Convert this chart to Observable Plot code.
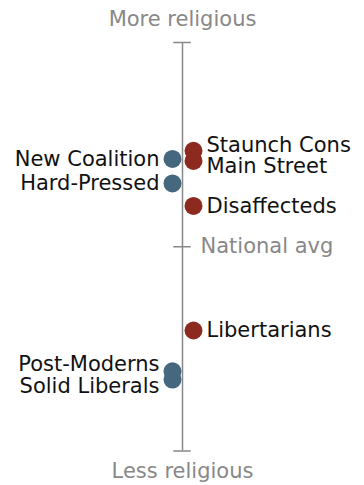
<!DOCTYPE html>
<html>
<head>
<meta charset="utf-8">
<script src="https://cdn.jsdelivr.net/npm/d3@7"></script>
<script src="https://cdn.jsdelivr.net/npm/@observablehq/plot@0.6"></script>
<style>
  html, body { margin: 0; padding: 0; background: #fff; }
  #chart svg { display: block; }
</style>
</head>
<body>
<div id="chart"></div>
<script>
// Data (religiosity relative to national average; +10 = most religious, -10 = least)
const groups = ["Staunch Cons", "Main Street", "New Coalition", "Hard-Pressed", "Disaffecteds", "Libertarians", "Post-Moderns", "Solid Liberals"];
const religiosity = [4.7, 4.2, 4.3, 3.1, 2.0, -4.1, -6.1, -6.5];
const sides = ["right", "right", "left", "left", "right", "right", "left", "left"];
const axisTicks = [10, 0, -10];
const axisLabels = ["More religious", "National avg", "Less religious"];

const blue = "#46687f";
const red = "#8c2a1f";
const gray = "#888888";
const font = "DejaVu Sans, Verdana, sans-serif";

const data = groups.map((g, i) => ({group: g, value: religiosity[i], side: sides[i]}));

// simple label de-overlap per side (gap in y data units)
function dodge(items, gap) {
  const sorted = items.slice().sort((a, b) => b.value - a.value);
  let clusters = sorted.map(d => ({items: [d], center: d.value}));
  let merged = true;
  while (merged) {
    merged = false;
    for (let i = 1; i < clusters.length; i++) {
      const a = clusters[i - 1], b = clusters[i];
      const aBottom = a.center - (a.items.length - 1) / 2 * gap;
      const bTop = b.center + (b.items.length - 1) / 2 * gap;
      if (aBottom - bTop < gap) {
        const items2 = a.items.concat(b.items);
        clusters.splice(i - 1, 2, {items: items2, center: d3.mean(items2, d => d.value)});
        merged = true;
        break;
      }
    }
  }
  for (const c of clusters) {
    const n = c.items.length;
    c.items.forEach((d, k) => { d.labelY = c.center + ((n - 1) / 2 - k) * gap; });
  }
}
dodge(data.filter(d => d.side === "left"), 1.06);
dodge(data.filter(d => d.side === "right"), 1.06);

const left = data.filter(d => d.side === "left");
const right = data.filter(d => d.side === "right");
const tickData = axisTicks.map((t, i) => ({value: t, label: axisLabels[i]}));

const chart = Plot.plot({
  width: 364,
  height: 485,
  marginTop: 42,
  marginBottom: 34.5,
  marginLeft: 0,
  marginRight: 0,
  x: {domain: [-1, 1], axis: null},
  y: {domain: [-10, 10], axis: null},
  style: {fontFamily: font, background: "#fff"},
  marks: [
    Plot.ruleX([0], {y1: axisTicks[2], y2: axisTicks[0], stroke: gray, strokeWidth: 1.5}),
    Plot.ruleY(axisTicks, {y: d => d, x1: -0.048, x2: 0.048, stroke: gray, strokeWidth: 1.5}),
    Plot.dot(left, {x: 0, y: "value", dx: -10, r: 9, fill: blue}),
    Plot.dot(right, {x: 0, y: "value", dx: 11, r: 9, fill: red}),
    Plot.text(left, {x: 0, y: "labelY", text: "group", dx: -23, textAnchor: "end", lineAnchor: "middle", fill: "#111", fontSize: 21}),
    Plot.text(right, {x: 0, y: "labelY", text: "group", dx: 24, textAnchor: "start", lineAnchor: "middle", fill: "#111", fontSize: 21}),
    Plot.text(tickData.filter(d => d.value > 0), {x: 0, y: "value", text: "label", dy: -23, textAnchor: "middle", lineAnchor: "middle", fill: gray, fontSize: 21}),
    Plot.text(tickData.filter(d => d.value === 0), {x: 0, y: "value", text: "label", dx: 18, textAnchor: "start", lineAnchor: "middle", fill: gray, fontSize: 21}),
    Plot.text(tickData.filter(d => d.value < 0), {x: 0, y: "value", text: "label", dy: 20, textAnchor: "middle", lineAnchor: "middle", fill: gray, fontSize: 21})
  ]
});
document.getElementById("chart").appendChild(chart);
</script>
</body>
</html>
